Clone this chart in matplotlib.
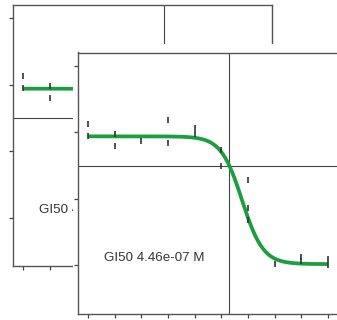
import numpy as np
import matplotlib
matplotlib.use("Agg")
import matplotlib.pyplot as plt
from matplotlib.patches import Rectangle

plt.rcParams['font.family'] = ['Liberation Sans', 'DejaVu Sans']

# log10 concentration (M) and % growth replicates
conc_log = [-9.0, -9.0, -8.5, -8.5, -8.0, -7.5, -7.5, -7.0, -7.0, -6.5, -6.5,
            -6.0, -6.0, -6.0, -5.5, -5.0, -5.0, -4.5, -4.5]
growth = [113, 95, 98, 80, 87, 119, 84, 106, 98, 74, 50,
          29, -14, -31, -98, -88, -94, -90, -100]

# fitted curve parameters
gi50 = 4.46e-07
top = 94.0
bottom = -98.0
hill = 2.2
label = "GI50 4.46e-07 M"

W, H = 337, 320
fig = plt.figure(figsize=(W / 100, H / 100), dpi=100)

def box(left, top_px, width, height):
    return [left / W, (H - top_px - height) / H, width / W, height / H]

g = np.log10(gi50)
center = g - np.log10((top - 50) / (50 - bottom)) / hill
xs = np.linspace(min(conc_log), max(conc_log), 300)
curve = bottom + (top - bottom) / (1 + 10 ** (hill * (xs - center)))

def draw_panel(ax):
    ax.set_xlim(-9.1875, -4.3125)
    ax.set_ylim(-173, 220)
    ax.plot(xs, curve, color='#1a9e40', lw=2.7, solid_capstyle='butt', zorder=2)
    ax.plot(conc_log, growth, ls='none', marker='|', ms=3.8, mew=1.2,
            color='#333333', zorder=3)
    ax.axvline(g, color='#444444', lw=0.8, zorder=1)
    ax.axhline(50, color='#444444', lw=0.8, zorder=1)
    ax.text(-7.76, -89, label, ha='center', va='center', fontsize=9.6,
            color='#333333')
    ax.set_xticks(sorted(set(conc_log)))
    ax.set_yticks([-100, 0, 100, 200])
    ax.tick_params(direction='out', length=3.2, width=0.9, color='#444444',
                   labelbottom=False, labelleft=False)
    for s in ax.spines.values():
        s.set_color('#555555')
        s.set_linewidth(1.0)
    ax.set_facecolor('white')

back = fig.add_axes(box(13, 5, 259, 261))
back.set_zorder(1)
draw_panel(back)

cover = Rectangle((73 / W, 0), (W - 73) / W, (H - 44) / H,
                  transform=fig.transFigure, facecolor='white',
                  edgecolor='none', zorder=2)
fig.patches.append(cover)

front = fig.add_axes(box(78, 52.5, 260, 261.5))
front.set_zorder(3)
draw_panel(front)

fig.savefig("out.png", dpi=100)
